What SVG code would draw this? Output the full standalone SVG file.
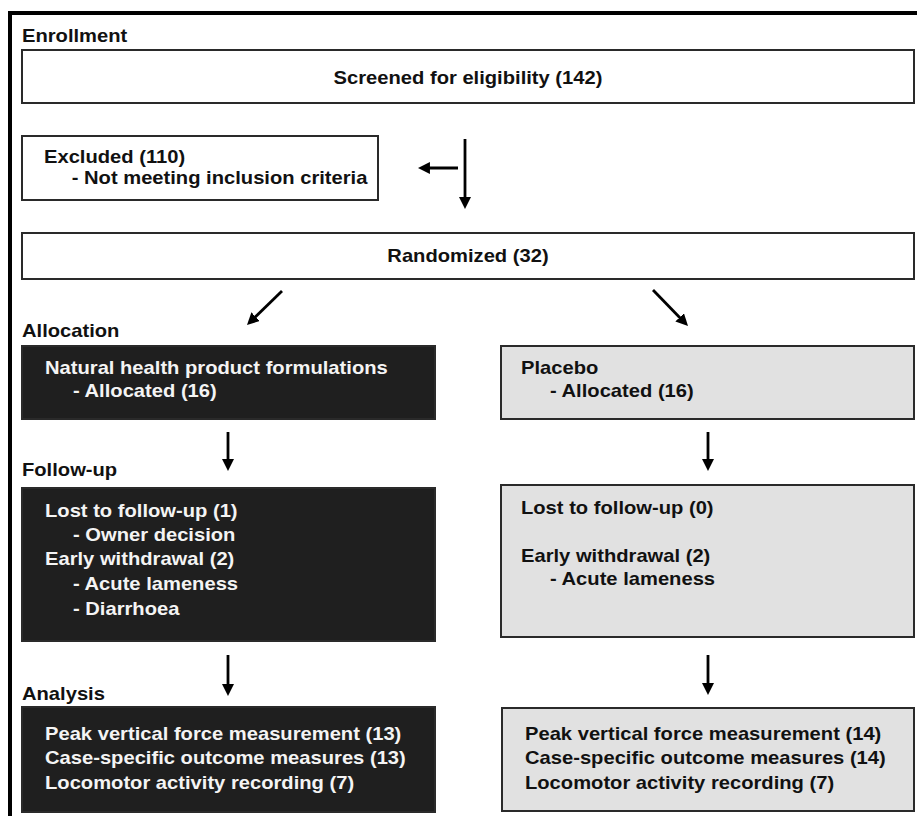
<svg xmlns="http://www.w3.org/2000/svg" width="917" height="816" viewBox="0 0 917 816">
<style>
text{font-family:"Liberation Sans",Arial,sans-serif;font-weight:bold;font-size:18px;fill:#111}
.w{fill:#f4f4f4}
.c{text-anchor:middle}
.box{fill:#fff;stroke:#2a2a2a;stroke-width:2}
.dark{fill:#1f1f1f;stroke:#2a2a2a;stroke-width:2}
.light{fill:#e1e1e1;stroke:#2a2a2a;stroke-width:2}
.arr{stroke:#000;stroke-width:2.8;fill:none;marker-end:url(#ah)}
</style>
<defs>
<marker id="ah" viewBox="0 0 10 10" refX="5.8" refY="5" markerWidth="12" markerHeight="12" markerUnits="userSpaceOnUse" orient="auto">
<path d="M0,0 L10,5 L0,10 z" fill="#000"/>
</marker>
</defs>
<rect width="917" height="816" fill="#fff"/>
<path d="M10,816 L10,13 L917,13" fill="none" stroke="#000" stroke-width="4"/>
<g id="labels">
<text transform="scale(1.12 1)" x="19.64" y="42">Enrollment</text>
<text transform="scale(1.12 1)" x="19.64" y="337">Allocation</text>
<text transform="scale(1.12 1)" x="19.64" y="476">Follow-up</text>
<text transform="scale(1.12 1)" x="19.64" y="700">Analysis</text>
</g>
<g id="screened">
<rect class="box" x="22" y="50" width="892" height="53"/>
<text class="c" transform="scale(1.12 1)" x="417.86" y="84">Screened for eligibility (142)</text>
</g>
<g id="excluded">
<rect class="box" x="22" y="136" width="356" height="64"/>
<text transform="scale(1.12 1)" x="39.29" y="163">Excluded (110)</text>
<text transform="scale(1.12 1)" x="64.02" y="184">- Not meeting inclusion criteria</text>
</g>
<g id="randomized">
<rect class="box" x="22" y="233" width="892" height="46"/>
<text class="c" transform="scale(1.12 1)" x="417.86" y="262">Randomized (32)</text>
</g>
<g id="nhp-alloc">
<rect class="dark" x="22" y="346" width="413" height="73"/>
<text class="w" transform="scale(1.12 1)" x="40.18" y="374">Natural health product formulations</text>
<text class="w" transform="scale(1.12 1)" x="65.18" y="397">- Allocated (16)</text>
</g>
<g id="placebo-alloc">
<rect class="light" x="501" y="346" width="413" height="73"/>
<text transform="scale(1.12 1)" x="465.18" y="374">Placebo</text>
<text transform="scale(1.12 1)" x="491.07" y="397">- Allocated (16)</text>
</g>
<g id="nhp-followup">
<rect class="dark" x="22" y="488" width="413" height="153"/>
<text class="w" transform="scale(1.12 1)" x="40.18" y="517">Lost to follow-up (1)</text>
<text class="w" transform="scale(1.12 1)" x="65.18" y="541">- Owner decision</text>
<text class="w" transform="scale(1.12 1)" x="40.18" y="565">Early withdrawal (2)</text>
<text class="w" transform="scale(1.12 1)" x="65.18" y="590">- Acute lameness</text>
<text class="w" transform="scale(1.12 1)" x="65.18" y="615">- Diarrhoea</text>
</g>
<g id="placebo-followup">
<rect class="light" x="501" y="485" width="413" height="152"/>
<text transform="scale(1.12 1)" x="465.18" y="514">Lost to follow-up (0)</text>
<text transform="scale(1.12 1)" x="465.18" y="562">Early withdrawal (2)</text>
<text transform="scale(1.12 1)" x="491.07" y="585">- Acute lameness</text>
</g>
<g id="nhp-analysis">
<rect class="dark" x="22" y="707" width="413" height="105"/>
<text class="w" transform="scale(1.12 1)" x="40.18" y="740">Peak vertical force measurement (13)</text>
<text class="w" transform="scale(1.12 1)" x="40.18" y="764">Case-specific outcome measures (13)</text>
<text class="w" transform="scale(1.12 1)" x="40.18" y="789">Locomotor activity recording (7)</text>
</g>
<g id="placebo-analysis">
<rect class="light" x="502" y="708" width="412" height="103"/>
<text transform="scale(1.12 1)" x="468.75" y="740">Peak vertical force measurement (14)</text>
<text transform="scale(1.12 1)" x="468.75" y="764">Case-specific outcome measures (14)</text>
<text transform="scale(1.12 1)" x="468.75" y="789">Locomotor activity recording (7)</text>
</g>
<g id="connectors">
<line class="arr" x1="458" y1="168" x2="423" y2="168"/>
<line class="arr" x1="465" y1="139" x2="465" y2="204"/>
<line class="arr" x1="282" y1="291" x2="250.6" y2="321.5"/>
<line class="arr" x1="653" y1="290" x2="684.5" y2="322.4"/>
<line class="arr" x1="228" y1="432" x2="228" y2="466"/>
<line class="arr" x1="708" y1="432" x2="708" y2="466"/>
<line class="arr" x1="228" y1="655" x2="228" y2="691"/>
<line class="arr" x1="708" y1="655" x2="708" y2="690"/>
</g>
</svg>
